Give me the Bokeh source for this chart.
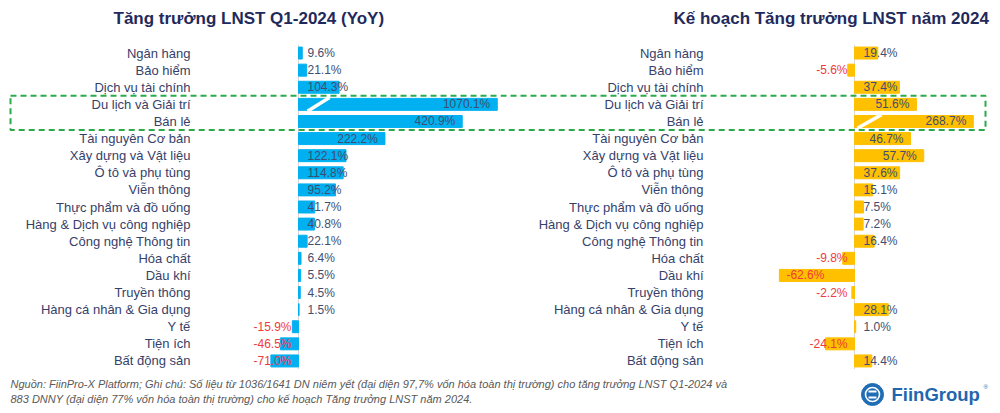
from bokeh.plotting import figure
from bokeh.models import ColumnDataSource, FactorRange, Range1d, Span
from bokeh.layouts import column, row
from bokeh.embed import file_html
from bokeh.resources import INLINE
from bokeh.core.properties import value

# ---------------- data ----------------
categories = [
    "Ngân hàng", "Bảo hiểm", "Dịch vụ tài chính", "Du lịch và Giải trí", "Bán lẻ",
    "Tài nguyên Cơ bản", "Xây dựng và Vật liệu", "Ô tô và phụ tùng", "Viễn thông",
    "Thực phẩm và đồ uống", "Hàng & Dịch vụ công nghiệp", "Công nghệ Thông tin",
    "Hóa chất", "Dầu khí", "Truyền thông", "Hàng cá nhân & Gia dụng", "Y tế",
    "Tiện ích", "Bất động sản",
]
q1_growth = [9.6, 21.1, 104.3, 1070.1, 420.9, 222.2, 122.1, 114.8, 95.2, 41.7,
             40.8, 22.1, 6.4, 5.5, 4.5, 1.5, -15.9, -46.5, -71.0]
plan_growth = [19.4, -5.6, 37.4, 51.6, 268.7, 46.7, 57.7, 37.6, 15.1, 7.5,
               7.2, 16.4, -9.8, -62.6, -2.2, 28.1, 1.0, -24.1, 14.4]
highlighted = ["Du lịch và Giải trí", "Bán lẻ"]

left_title = "Tăng trưởng LNST Q1-2024 (YoY)"
right_title = "Kế hoạch Tăng trưởng LNST năm 2024"
footer_lines = [
    "Nguồn: FiinPro-X Platform; Ghi chú: Số liệu từ 1036/1641 DN niêm yết (đại diện 97,7% vốn hóa toàn thị trường) cho tăng trưởng LNST Q1-2024 và",
    "883 DNNY (đại diện 77% vốn hóa toàn thị trường) cho kế hoạch Tăng trưởng LNST năm 2024.",
]
brand = "FiinGroup"

# ---------------- style ----------------
FONT = "Liberation Sans"
NAVY = "#1F2A5C"
CAT_COLOR = "#36416A"
VAL_COLOR = "#3F4E70"
RED = "#EE3B3B"
GREEN = "#2BAA4A"
BLUE = "#00B0F0"
AMBER = "#FFC000"

W_TOTAL = 1000
W_PANEL = 500
H_HEAD = 44
H_PANEL = 325
H_FOOT = 44

CHAR_W = {".": 0.278, "%": 0.889, "-": 0.333}


def text_width(s, size):
    return sum(CHAR_W.get(c, 0.556) for c in s) * size


def blank(p):
    p.outline_line_color = None
    p.grid.visible = False
    p.background_fill_color = "white"
    p.border_fill_color = "white"


# ---------------- header ----------------
head = figure(width=W_TOTAL, height=H_HEAD, x_range=Range1d(0, W_TOTAL),
              y_range=Range1d(H_HEAD, 0), x_axis_location=None, y_axis_location=None,
              output_backend="svg", toolbar_location=None, min_border=0)
blank(head)
head.text(x=[113, 673], y=[18, 18], text=[left_title, right_title],
          text_baseline="middle", text_font=value(FONT), text_font_size="17px",
          text_font_style="bold", text_color=NAVY)


def panel(values, color, zero_px, px_per, cap, label_dx, slash_px,
          box_left_px, box_right_px):
    factors = categories[::-1]
    x0 = -zero_px / px_per
    x1 = (W_PANEL - zero_px) / px_per
    p = figure(width=W_PANEL, height=H_PANEL,
               y_range=FactorRange(*factors), x_range=Range1d(x0, x1),
               x_axis_location=None, y_axis_location=None,
               output_backend="svg", toolbar_location=None, min_border=0)
    blank(p)

    zero = Span(location=0, dimension="height", line_color="#D6D6D6",
                line_width=1, level="underlay")
    p.add_layout(zero)

    disp = [max(min(v, cap), -cap) for v in values]
    src = ColumnDataSource(dict(cat=categories, disp=disp))
    p.hbar(y="cat", left=0, right="disp", height=0.7, color=color, source=src)

    # broken-axis slash for values beyond the cap
    brk = [c for c, v in zip(categories, values) if abs(v) > cap]
    if brk:
        p.segment(x0=[slash_px[0] / px_per] * len(brk),
                  y0=[(c, -0.4) for c in brk],
                  x1=[slash_px[1] / px_per] * len(brk),
                  y1=[(c, 0.4) for c in brk],
                  line_color="white", line_width=3.5)

    # value labels
    groups = {"inl": [], "inr": [], "outl": [], "outr": []}
    for c, v, d in zip(categories, values, disp):
        lbl = f"{v:.1f}%"
        w = text_width(lbl, 12)
        bar_px = abs(d) * px_per
        col = VAL_COLOR if v >= 0 else RED
        if v >= 0:
            if bar_px >= w + 16:
                groups["inr"].append((d, c, lbl, col))
            else:
                groups["outl"].append((0, c, lbl, col))
        else:
            if bar_px >= w + 15:
                groups["inl"].append((d, c, lbl, col))
            else:
                groups["outr"].append((0, c, lbl, col))
    spec = {"inr": ("right", -7), "outl": ("left", 9),
            "inl": ("left", 7), "outr": ("right", -7)}
    for k, items in groups.items():
        if not items:
            continue
        xs, ys, ts, cs = zip(*items)
        s = ColumnDataSource(dict(x=list(xs), y=list(ys), t=list(ts), c=list(cs)))
        al, off = spec[k]
        p.text(x="x", y="y", text="t", text_color="c", source=s,
               text_align=al, x_offset=off, text_baseline="middle",
               text_font=value(FONT), text_font_size="12px")

    # category labels
    cs = ColumnDataSource(dict(x=[0] * len(categories), y=categories, t=categories))
    p.text(x="x", y="y", text="t", source=cs, text_align="right",
           x_offset=label_dx, text_baseline="middle", text_color=CAT_COLOR,
           text_font=value(FONT), text_font_size="13px")

    # dashed highlight box
    bs = ColumnDataSource(dict(
        left=[(box_left_px - zero_px) / px_per],
        right=[(box_right_px - zero_px) / px_per],
        top=[(highlighted[0], 0.5)],
        bottom=[(highlighted[-1], -0.5)]))
    p.quad(left="left", right="right", top="top", bottom="bottom", source=bs,
           fill_alpha=0, line_color=GREEN, line_width=2, line_dash="6 4")
    return p


left = panel(q1_growth, BLUE, zero_px=298, px_per=0.389, cap=511,
             label_dx=-108, slash_px=(9, 31), box_left_px=10,
             box_right_px=W_PANEL + 40)
right = panel(plan_growth, AMBER, zero_px=354, px_per=1.2, cap=99,
              label_dx=-151, slash_px=(3, 27), box_left_px=-40, box_right_px=485)

# ---------------- footer ----------------
foot = figure(width=W_TOTAL, height=H_FOOT, x_range=Range1d(0, W_TOTAL),
              y_range=Range1d(H_FOOT, 0), x_axis_location=None, y_axis_location=None,
              output_backend="svg", toolbar_location=None, min_border=0)
blank(foot)
foot.text(x=[10, 10], y=[14, 29], text=footer_lines, text_baseline="middle",
          text_font=value(FONT), text_font_size="11px", text_font_style="italic",
          text_color="#595959")
foot.scatter(x=[872], y=[25], size=22, color="#1F6DB5")
foot.scatter(x=[872], y=[25], size=14, fill_alpha=0, line_color="white", line_width=1.6)
foot.segment(x0=[868, 868], y0=[22, 28], x1=[876, 876], y1=[22, 28],
             line_color="white", line_width=2)
foot.text(x=[891], y=[25], text=[brand], text_baseline="middle",
          text_font=value(FONT), text_font_size="18.5px", text_font_style="bold",
          text_color="#1F66B0")
foot.text(x=[983], y=[17], text=["®"], text_baseline="middle",
          text_font=value(FONT), text_font_size="6px", text_color="#1F66B0")

layout = column(head, row(left, right, spacing=0), foot, spacing=0)
open("out.html", "w").write(file_html(layout, INLINE))
